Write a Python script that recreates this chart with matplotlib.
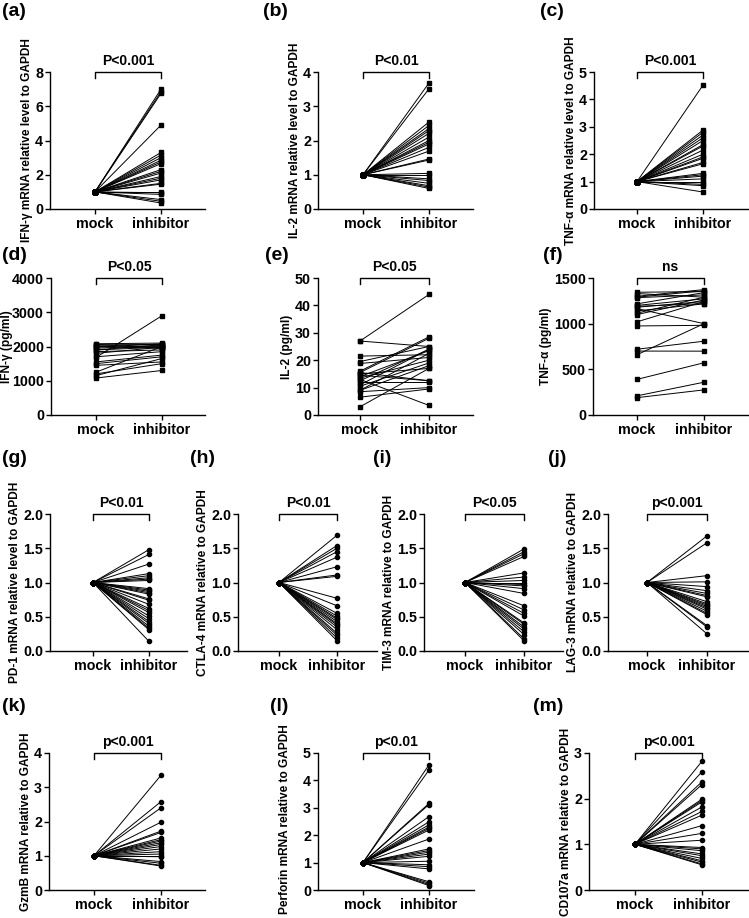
import matplotlib.pyplot as plt
import numpy as np

plt.rcParams['font.family'] = ['Liberation Sans', 'DejaVu Sans']
plt.rcParams['font.weight'] = 'bold'
plt.rcParams['axes.labelweight'] = 'bold'

groups = ["mock", "inhibitor"]

# fold change panels: mock is 1 for every sample
ifng_mrna = [7.0, 6.85, 6.75, 4.9, 3.3, 3.15, 3.0, 2.85, 2.75, 2.65, 2.3, 2.2, 2.1,
             1.9, 1.8, 1.7, 1.5, 1.45, 1.0, 0.95, 0.85, 0.55, 0.45, 0.35]
il2_mrna = [3.68, 3.51, 2.54, 2.44, 2.35, 2.29, 2.21, 2.1, 2.0, 1.95, 1.9, 1.8, 1.69,
            1.46, 1.43, 1.04, 1.0, 0.88, 0.83, 0.75, 0.68, 0.64, 0.6]
tnfa_mrna = [4.52, 2.88, 2.8, 2.7, 2.6, 2.5, 2.35, 2.3, 2.15, 2.0, 1.9, 1.85, 1.7,
             1.65, 1.3, 1.25, 1.2, 1.1, 1.0, 0.9, 0.85, 0.62]

# paired ELISA panels
ifng_mock = [2080, 2050, 2020, 2000, 1980, 1950, 1900, 1850, 1680, 1700, 1550, 1500,
             1450, 1250, 1200, 1150, 1080, 1900, 2060, 1800]
ifng_inh = [2100, 2060, 2000, 1950, 2080, 2030, 1980, 1900, 2900, 1850, 1750, 1700,
            1550, 2000, 1500, 1650, 1300, 2050, 1950, 1980]
il2_mock = [27, 27, 21.5, 19.5, 18.8, 16, 15.5, 15, 14.5, 14, 13.5, 13, 12, 11, 10.5,
            9, 9, 8.5, 6.5, 3, 15.5, 12.5]
il2_inh = [44, 25, 22, 25, 21, 28.5, 28, 17, 12.5, 23.5, 20, 3.5, 12, 24, 19, 22.5,
           18, 10, 9.5, 17, 12.5, 24]
tnfa_mock = [1344, 1330, 1300, 1285, 1217, 1200, 1180, 1165, 1140, 1115, 1100, 1020,
             975, 720, 700, 660, 390, 210, 190, 1190, 1290]
tnfa_inh = [1351, 1290, 1373, 1315, 1340, 1272, 1243, 1000, 1217, 1290, 1260, 1243,
            982, 808, 699, 1000, 572, 359, 275, 1220, 1360]

pd1_mrna = [1.48, 1.41, 1.27, 1.13, 1.10, 1.07, 1.05, 1.03, 0.91, 0.89, 0.87, 0.85,
            0.83, 0.76, 0.74, 0.68, 0.62, 0.59, 0.56, 0.51, 0.47, 0.43, 0.40, 0.36,
            0.33, 0.31, 0.14]
ctla4_mrna = [1.69, 1.54, 1.50, 1.45, 1.37, 1.23, 1.11, 1.09, 0.77, 0.66, 0.55, 0.51,
              0.48, 0.46, 0.43, 0.40, 0.38, 0.35, 0.31, 0.26, 0.23, 0.19, 0.15]
tim3_mrna = [1.49, 1.45, 1.42, 1.38, 1.14, 1.08, 1.03, 1.0, 0.97, 0.95, 0.91, 0.84,
             0.66, 0.60, 0.55, 0.51, 0.41, 0.39, 0.35, 0.32, 0.28, 0.24, 0.18, 0.15]
lag3_mrna = [1.68, 1.58, 1.10, 1.01, 0.94, 0.88, 0.84, 0.81, 0.79, 0.72, 0.69, 0.67,
             0.65, 0.63, 0.61, 0.58, 0.55, 0.53, 0.37, 0.35, 0.25]
gzmb_mrna = [3.35, 2.58, 2.40, 1.98, 1.72, 1.68, 1.52, 1.47, 1.43, 1.38, 1.33, 1.27,
             1.2, 1.12, 1.05, 1.0, 0.97, 0.83, 0.78, 0.72, 0.70]
prf_mrna = [4.57, 4.38, 3.16, 3.12, 2.68, 2.49, 2.38, 2.3, 2.25, 2.19, 1.86, 1.5, 1.44,
            1.38, 1.31, 1.23, 1.05, 0.92, 0.85, 0.77, 0.30, 0.25, 0.2, 0.16]
cd107a_mrna = [2.82, 2.59, 2.37, 2.31, 1.99, 1.96, 1.93, 1.82, 1.72, 1.64, 1.41, 1.24,
               1.09, 0.93, 0.90, 0.86, 0.79, 0.75, 0.69, 0.64, 0.61, 0.57, 0.55]

W, H = 749, 918
fig = plt.figure(figsize=(W / 100, H / 100), dpi=100)

# pixel layout: left, right, top, bottom, mock x, inhibitor x, label x, label y
layout = {
    "a": (50, 205, 72, 209, 95, 161, 2, 3),
    "b": (318, 473, 72, 209, 363, 429, 263, 3),
    "c": (594, 748, 72, 209, 637, 703, 540, 3),
    "d": (51, 205, 278, 415, 96, 162, 2, 247),
    "e": (318, 473, 278, 415, 360, 429, 265, 247),
    "f": (593, 748, 278, 415, 637, 704, 543, 247),
    "g": (50, 187, 514, 651, 93, 149, 2, 450),
    "h": (238, 377, 514, 651, 279, 337, 190, 450),
    "i": (424, 563, 514, 651, 465, 524, 373, 450),
    "j": (608, 748, 514, 651, 647, 707, 548, 450),
    "k": (49, 205, 753, 890, 94, 161, 2, 698),
    "l": (318, 474, 753, 890, 363, 429, 270, 698),
    "m": (589, 748, 753, 890, 635, 702, 533, 698),
}

panels = [
    ("a", None, ifng_mrna, 8, [0, 2, 4, 6, 8], "IFN-\u03b3 mRNA relative level to GAPDH", "P<0.001", "s"),
    ("b", None, il2_mrna, 4, [0, 1, 2, 3, 4], "IL-2 mRNA relative level to GAPDH", "P<0.01", "s"),
    ("c", None, tnfa_mrna, 5, [0, 1, 2, 3, 4, 5], "TNF-\u03b1 mRNA relative level to GAPDH", "P<0.001", "s"),
    ("d", ifng_mock, ifng_inh, 4000, [0, 1000, 2000, 3000, 4000], "IFN-\u03b3 (pg/ml)", "P<0.05", "s"),
    ("e", il2_mock, il2_inh, 50, [0, 10, 20, 30, 40, 50], "IL-2 (pg/ml)", "P<0.05", "s"),
    ("f", tnfa_mock, tnfa_inh, 1500, [0, 500, 1000, 1500], "TNF-\u03b1 (pg/ml)", "ns", "s"),
    ("g", None, pd1_mrna, 2.0, [0, 0.5, 1.0, 1.5, 2.0], "PD-1 mRNA relative level to GAPDH", "P<0.01", "o"),
    ("h", None, ctla4_mrna, 2.0, [0, 0.5, 1.0, 1.5, 2.0], "CTLA-4 mRNA relative to GAPDH", "P<0.01", "o"),
    ("i", None, tim3_mrna, 2.0, [0, 0.5, 1.0, 1.5, 2.0], "TIM-3 mRNA relative to GAPDH", "P<0.05", "o"),
    ("j", None, lag3_mrna, 2.0, [0, 0.5, 1.0, 1.5, 2.0], "LAG-3 mRNA relative to GAPDH", "p<0.001", "o"),
    ("k", None, gzmb_mrna, 4, [0, 1, 2, 3, 4], "GzmB mRNA relative to GAPDH", "p<0.001", "o"),
    ("l", None, prf_mrna, 5, [0, 1, 2, 3, 4, 5], "Perforin mRNA relative to GAPDH", "p<0.01", "o"),
    ("m", None, cd107a_mrna, 3, [0, 1, 2, 3], "CD107a mRNA relative to GAPDH", "p<0.001", "o"),
]

for key, mock, inh, ytop, yticks, ylabel, ptext, mk in panels:
    l, r, t, b, xm, xi, lx, ly = layout[key]
    ax = fig.add_axes([l / W, 1 - b / H, (r - l) / W, (b - t) / H])
    if mock is None:
        mock = [1.0] * len(inh)
    for m0, v in zip(mock, inh):
        ax.plot([0, 1], [m0, v], color="black", lw=0.7,
                marker=mk, ms=3.4 if mk == "s" else 3.0, mfc="black", mec="black",
                clip_on=False)
    sp = xi - xm
    ax.set_xlim((l - xm) / sp, (r - xm) / sp)
    ax.set_ylim(0, ytop)
    ax.set_yticks(yticks)
    if isinstance(yticks[1], float):
        ax.set_yticklabels(["%.1f" % v for v in yticks])
    ax.set_xticks([0, 1])
    ax.set_xticklabels(groups)
    for s in ["top", "right"]:
        ax.spines[s].set_visible(False)
    for s in ["left", "bottom"]:
        ax.spines[s].set_linewidth(1.0)
    ax.tick_params(axis="both", length=3.5, width=1.0, labelsize=10.3, pad=1.5)
    ax.tick_params(axis="x", pad=2)
    ax.set_ylabel(ylabel, fontsize=8.6, fontweight="bold", labelpad=1.5)
    if key == "d":
        ax.yaxis.set_label_coords(-0.245, 0.5)
    if key == "l":
        ax.yaxis.set_label_coords(-0.175, 0.52)
    # significance bracket
    leg = 6 / (b - t)
    ax.plot([0, 0, 1, 1], [1 - leg, 1, 1, 1 - leg], color="black", lw=1.0,
            transform=ax.get_xaxis_transform(), clip_on=False)
    ax.text(0.5, 1 + 4 / (b - t), ptext, transform=ax.get_xaxis_transform(),
            ha="center", va="bottom", fontsize=10, fontweight="bold")
    fig.text(lx / W, 1 - ly / H, "(%s)" % key, ha="left", va="top",
             fontsize=14, fontweight="bold")

fig.savefig("out.png", dpi=100)
